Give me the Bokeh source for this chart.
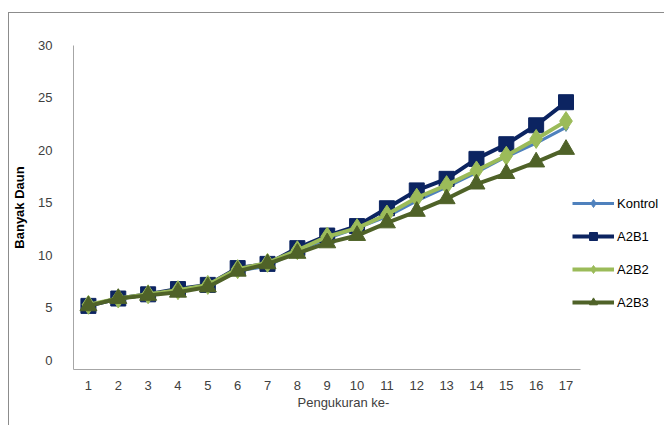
from bokeh.plotting import figure
from bokeh.models import Range1d, FixedTicker, Legend, LegendItem, Title
from bokeh.layouts import column
from bokeh.embed import file_html
from bokeh.resources import INLINE

# Leaf counts per measurement round
pengukuran = list(range(1, 18))
kontrol = [5.2, 5.9, 6.2, 6.6, 7.0, 8.5, 9.0, 10.4, 11.6, 12.6, 13.7, 15.2, 16.5, 17.9, 19.4, 20.7, 22.2]
a2b1 = [5.2, 5.9, 6.3, 6.8, 7.2, 8.8, 9.2, 10.7, 11.9, 12.8, 14.5, 16.2, 17.3, 19.2, 20.6, 22.4, 24.6]
a2b2 = [5.3, 5.9, 6.3, 6.7, 7.2, 8.7, 9.3, 10.5, 11.8, 12.6, 13.9, 15.5, 16.7, 18.1, 19.5, 21.1, 22.8]
a2b3 = [5.2, 5.9, 6.2, 6.5, 7.0, 8.5, 9.2, 10.2, 11.2, 11.9, 13.1, 14.2, 15.4, 16.8, 17.8, 18.9, 20.1]
y_ticks = [0, 5, 10, 15, 20, 25, 30]

FONT = "Liberation Sans"
TEXT = "#404040"
AXIS = "#a6a6a6"

# x spans the 17 rounds plus room on the right for the legend
p = figure(
    x_range=Range1d(0.5, 20.3),
    y_range=Range1d(-0.86, 30),
    width=655, height=412,
    min_border_left=60, min_border_top=32, min_border_right=0, min_border_bottom=56,
    output_backend="svg", toolbar_location=None,
)
p.outline_line_color = None
p.xgrid.visible = False
p.ygrid.visible = False

p.yaxis.ticker = FixedTicker(ticks=y_ticks)
p.xaxis.ticker = FixedTicker(ticks=pengukuran)
p.xaxis.bounds = (0.5, 17.5)
for ax in (p.xaxis[0], p.yaxis[0]):
    ax.axis_line_color = AXIS
    ax.axis_line_width = 1
    ax.major_tick_line_color = None
    ax.minor_tick_line_color = None
    ax.major_label_text_font = FONT
    ax.major_label_text_font_size = "13px"
    ax.major_label_text_color = TEXT

p.yaxis.major_label_standoff = 15
p.yaxis.axis_label = "Banyak Daun"
p.yaxis.axis_label_text_font = FONT
p.yaxis.axis_label_text_color = "#000000"
p.yaxis.axis_label_text_font_style = "bold"
p.yaxis.axis_label_text_font_size = "13px"
p.yaxis.axis_label_standoff = 8

p.xaxis.major_label_standoff = 5

# x-axis caption, centred under the 17 measurement rounds
p.add_layout(Title(
    text="Pengukuran ke-", align="left", offset=224, standoff=0,
    text_font=FONT, text_font_size="13px", text_font_style="normal",
    text_color=TEXT,
), "below")

series = [
    ("Kontrol", kontrol, "#4f81bd", "diamond", 8, 3),
    ("A2B1", a2b1, "#0c2461", "square", 15, 4),
    ("A2B2", a2b2, "#9bbb59", "diamond", 19, 4),
    ("A2B3", a2b3, "#4f6228", "triangle", 17, 4),
]

items = []
for name, vals, color, marker, size, lw in series:
    ln = p.line(pengukuran, vals, line_color=color, line_width=lw)
    sc = p.scatter(pengukuran, vals, marker=marker, size=size,
                   fill_color=color, line_color=color)
    items.append(LegendItem(label=name, renderers=[ln, sc]))

legend = Legend(
    items=items,
    location=(499, 57),
    orientation="vertical",
    glyph_width=42, glyph_height=20,
    label_height=20, label_standoff=3,
    spacing=13, padding=0, margin=0,
    border_line_color=None, background_fill_alpha=0,
    label_text_font=FONT, label_text_font_size="13px", label_text_color="#000000",
)
p.add_layout(legend)

page = column(
    p, margin=(12, 0, 0, 8),
    styles={"border-top": "1px solid #8c8c8c", "border-left": "1px solid #8c8c8c"},
)

open("out.html", "w").write(file_html(page, INLINE))
